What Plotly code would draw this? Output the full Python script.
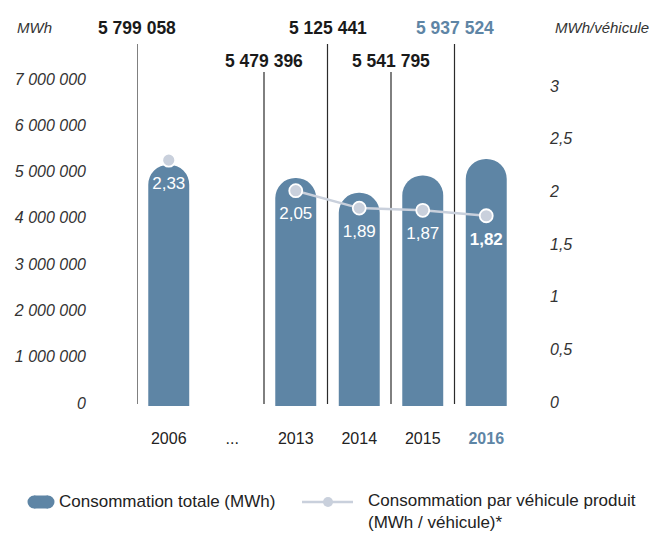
import plotly.graph_objects as go

# --- data -------------------------------------------------------------
categories = ["2006", "...", "2013", "2014", "2015", "2016"]
bar_years = ["2006", "2013", "2014", "2015", "2016"]
total_mwh = [5799058, 5479396, 5125441, 5541795, 5937524]
per_vehicle = [2.33, None, 2.05, 1.89, 1.87, 1.82]

left_tickvals = [0, 1e6, 2e6, 3e6, 4e6, 5e6, 6e6, 7e6]
left_ticktext = ["0", "1 000 000", "2 000 000", "3 000 000", "4 000 000",
                 "5 000 000", "6 000 000", "7 000 000"]
right_tickvals = [0, 0.5, 1, 1.5, 2, 2.5, 3]
right_ticktext = ["0", "0,5", "1", "1,5", "2", "2,5", "3"]

# --- styling ----------------------------------------------------------
W, H = 653, 538
ML, MR, MT, MB = 137, 135, 20, 132
PW, PH = W - ML - MR, H - MT - MB
BAR = "#5e85a5"
LINE = "#c9d0dc"
HILITE = "#5e85a5"
DARK = "#1a1a1a"
SANS = "Liberation Sans, Arial, Helvetica, sans-serif"


def px(x):
    return (x - ML) / PW


def py(y):
    return (MT + PH - y) / PH


fig = go.Figure()

# invisible anchors so both scale axes are laid out
fig.add_trace(go.Scatter(
    x=[categories[0], categories[-1]], y=[left_tickvals[0], left_tickvals[-1]],
    yaxis="y", mode="markers", marker=dict(opacity=0), hoverinfo="skip", showlegend=False,
))
fig.add_trace(go.Scatter(
    x=[categories[0], categories[-1]], y=[right_tickvals[0], right_tickvals[-1]],
    yaxis="y3", mode="markers", marker=dict(opacity=0), hoverinfo="skip", showlegend=False,
))

fig.add_trace(go.Bar(
    x=bar_years, y=total_mwh, yaxis="y2",
    name="Consommation totale (MWh)",
    marker=dict(color=BAR, cornerradius="50%", line=dict(width=0)),
    width=0.645, showlegend=False,
))

fig.add_trace(go.Scatter(
    x=categories, y=per_vehicle, yaxis="y4", mode="lines+markers",
    name="Consommation par véhicule produit (MWh / véhicule)*",
    line=dict(color=LINE, width=2.5),
    marker=dict(size=13, color=LINE, line=dict(color="white", width=1.8)),
    connectgaps=False, showlegend=False, cliponaxis=False,
))

# per-vehicle labels, comma decimals, last year in bold
pv_text = []
for cat, v in zip(categories, per_vehicle):
    if v is None:
        pv_text.append("")
        continue
    t = f"{v:.2f}".replace(".", ",")
    pv_text.append(f"<b>{t}</b>" if cat == "2016" else t)

fig.add_trace(go.Scatter(
    x=categories, y=per_vehicle, yaxis="y4", mode="markers+text",
    marker=dict(size=24, opacity=0), hoverinfo="skip",
    text=pv_text, textposition="bottom center",
    textfont=dict(family=SANS, size=17, color="white"),
    showlegend=False, cliponaxis=False,
))

annotations = []
shapes = []

# totals above the bars, staggered, each with a leader line
for k, (yr, v) in enumerate(zip(bar_years, total_mwh)):
    idx = categories.index(yr)
    high = k % 2 == 0
    label = f"{v:,}".replace(",", " ")
    col = HILITE if yr == "2016" else DARK
    annotations.append(dict(
        x=idx - 0.5, xref="x", y=py(28 if high else 61), yref="paper",
        text=f"<b>{label}</b>", showarrow=False, xanchor="center", yanchor="middle",
        font=dict(family=SANS, size=17.5, color=col),
    ))
    shapes.append(dict(
        type="line", xref="x", yref="paper", x0=idx - 0.5, x1=idx - 0.5,
        y0=py(404), y1=py(44 if high else 72),
        line=dict(color="#2b2b2b", width=1.2), layer="below",
    ))

# axis unit captions
annotations.append(dict(
    x=px(15), xref="paper", y=py(28), yref="paper", text="MWh", showarrow=False,
    xanchor="left", yanchor="middle",
    font=dict(family=SANS, size=15, color="#333", style="italic"),
))
annotations.append(dict(
    x=px(651), xref="paper", y=py(28), yref="paper", text="MWh/véhicule", showarrow=False,
    xanchor="right", yanchor="middle",
    font=dict(family=SANS, size=15, color="#333", style="italic"),
))

# legend drawn below the plot
ly = 502
shapes += [
    dict(type="rect", xref="paper", yref="paper", x0=px(34), x1=px(48),
         y0=py(ly + 6.5), y1=py(ly - 6.5), fillcolor=BAR, line=dict(width=0)),
    dict(type="circle", xref="paper", yref="paper", x0=px(27.5), x1=px(40.5),
         y0=py(ly + 6.5), y1=py(ly - 6.5), fillcolor=BAR, line=dict(width=0)),
    dict(type="circle", xref="paper", yref="paper", x0=px(41.5), x1=px(54.5),
         y0=py(ly + 6.5), y1=py(ly - 6.5), fillcolor=BAR, line=dict(width=0)),
    dict(type="line", xref="paper", yref="paper", x0=px(302), x1=px(353),
         y0=py(ly), y1=py(ly), line=dict(color=LINE, width=2.5)),
    dict(type="circle", xref="paper", yref="paper", x0=px(323), x1=px(333),
         y0=py(ly + 5), y1=py(ly - 5), fillcolor=LINE, line=dict(width=0)),
]
annotations.append(dict(
    x=px(57), xref="paper", y=py(ly - 1), yref="paper", showarrow=False,
    text="Consommation totale (MWh)", xanchor="left", yanchor="middle",
    font=dict(family=SANS, size=17, color="#222"),
))
annotations.append(dict(
    x=px(366), xref="paper", y=py(ly - 13), yref="paper", showarrow=False,
    text="Consommation par véhicule produit<br>(MWh / véhicule)*", align="left",
    xanchor="left", yanchor="top",
    font=dict(family=SANS, size=17, color="#222"),
))

tick_text = [f"<b><span style='color:{HILITE}'>{c}</span></b>" if c == "2016" else c
             for c in categories]

fig.update_layout(
    width=W, height=H, margin=dict(l=ML, r=MR, t=MT, b=MB),
    paper_bgcolor="white", plot_bgcolor="white",
    showlegend=False,
    xaxis=dict(type="category", categoryorder="array", categoryarray=categories,
               range=[-0.5, 5.5], tickvals=categories, ticktext=tick_text,
               showgrid=False, zeroline=False, showline=False, ticks="",
               ticklabelstandoff=21,
               tickfont=dict(family=SANS, size=16, color="#222")),
    yaxis=dict(range=[-0.0648e6, 8.274e6], tickvals=left_tickvals, ticktext=left_ticktext,
               showgrid=False, zeroline=False, showline=False, ticks="",
               ticklabelstandoff=50,
               tickfont=dict(family=SANS, size=16, color="#333", style="italic")),
    yaxis2=dict(range=[0, 9.279e6], overlaying="y", visible=False),
    yaxis3=dict(range=[-0.038, 3.627], overlaying="y", side="right",
                tickvals=right_tickvals, ticktext=right_ticktext,
                showgrid=False, zeroline=False, showline=False, ticks="",
                ticklabelstandoff=31,
                tickfont=dict(family=SANS, size=16, color="#333", style="italic")),
    yaxis4=dict(range=[0.0746, 3.6159], overlaying="y", visible=False),
    annotations=annotations, shapes=shapes,
)

fig.write_html("out.html")
